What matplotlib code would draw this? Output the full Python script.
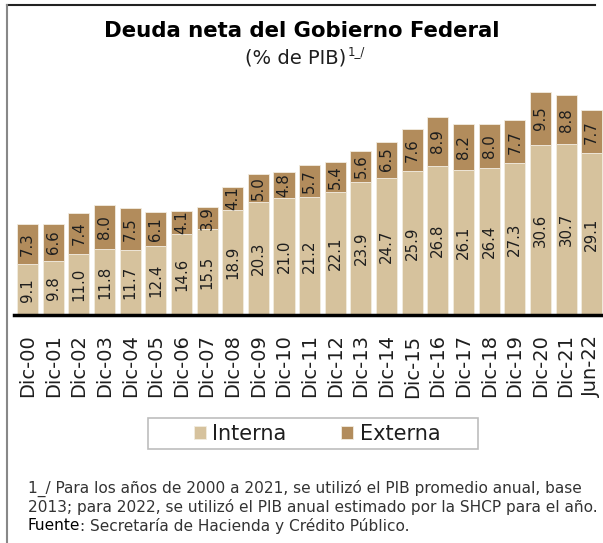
import numpy as np
import matplotlib
matplotlib.use("Agg")
import matplotlib.pyplot as plt
from matplotlib.lines import Line2D
from matplotlib.patches import Rectangle

periodos = ["Dic-00", "Dic-01", "Dic-02", "Dic-03", "Dic-04", "Dic-05", "Dic-06",
            "Dic-07", "Dic-08", "Dic-09", "Dic-10", "Dic-11", "Dic-12", "Dic-13",
            "Dic-14", "Dic-15", "Dic-16", "Dic-17", "Dic-18", "Dic-19", "Dic-20",
            "Dic-21", "Jun-22"]
interna = [9.1, 9.8, 11.0, 11.8, 11.7, 12.4, 14.6, 15.5, 18.9, 20.3, 21.0, 21.2,
           22.1, 23.9, 24.7, 25.9, 26.8, 26.1, 26.4, 27.3, 30.6, 30.7, 29.1]
externa = [7.3, 6.6, 7.4, 8.0, 7.5, 6.1, 4.1, 3.9, 4.1, 5.0, 4.8, 5.7,
           5.4, 5.6, 6.5, 7.6, 8.9, 8.2, 8.0, 7.7, 9.5, 8.8, 7.7]

COLOR_INT = "#d6c29d"
COLOR_EXT = "#b28c5c"
TXT = "#1e1e1e"

plt.rcParams["font.family"] = ["DejaVu Sans"]

fig = plt.figure(figsize=(6.03, 5.43), dpi=100)
W, H = 603, 543
# ejes: base en y=315 px, izquierda x=14 px
ax = fig.add_axes([14 / W, 1 - 315 / H, 1 - 14 / W, 255 / H])

x = np.arange(len(periodos))
ax.bar(x, interna, width=0.82, color=COLOR_INT, edgecolor="#f2ece0", linewidth=0.6, label="Interna")
ax.bar(x, externa, width=0.82, bottom=interna, color=COLOR_EXT, edgecolor="#f2ece0", linewidth=0.6, label="Externa")

for i in range(len(x)):
    ax.text(x[i], interna[i] / 2, f"{interna[i]:.1f}", rotation=90, ha="center", va="center",
            fontsize=10.8, color=TXT)
    ax.text(x[i], interna[i] + externa[i] / 2, f"{externa[i]:.1f}", rotation=90, ha="center",
            va="center", fontsize=10.8, color=TXT)

ax.set_xlim(-0.53, 22.44)
ax.set_ylim(0, 255 / 5.56)
ax.set_xticks(x)
ax.set_xticklabels(periodos, rotation=90, fontsize=14, color=TXT)
ax.tick_params(axis="x", length=0, pad=14)
ax.set_yticks([])
for s in ["top", "right", "left"]:
    ax.spines[s].set_visible(False)
ax.spines["bottom"].set_linewidth(2.5)
ax.spines["bottom"].set_color("black")

# leyenda con marco fijo
fig.add_artist(Rectangle((148 / W, 1 - 449 / H), 330 / W, 31 / H, transform=fig.transFigure,
                         facecolor="white", edgecolor="#bdbdbd", lw=1.2))
leg = fig.legend(loc="center", bbox_to_anchor=(317 / W, 1 - 434 / H), ncol=2, fontsize=15,
                 frameon=False, handlelength=0.6, handleheight=0.6, handletextpad=0.3,
                 columnspacing=2.6, borderpad=0.2)
for t in leg.get_texts():
    t.set_color(TXT)

fig.text(0.5, 1 - 31 / H, "Deuda neta del Gobierno Federal", ha="center", va="center",
         fontsize=15.3, fontweight="bold", color="black")
sub = fig.text(0.49, 1 - 58 / H, "(% de PIB)", ha="center", va="center", fontsize=14,
               color=TXT)
fig.canvas.draw()
sb = sub.get_window_extent()
fig.text(sb.x1 / W + 0.002, 1 - 52 / H, "1_/", ha="left", va="center", fontsize=8.5, color=TXT)

notas = ["1_/ Para los años de 2000 a 2021, se utilizó el PIB promedio anual, base",
         "2013; para 2022, se utilizó el PIB anual estimado por la SHCP para el año."]
FS = 11.1
fig.text(28 / W, 1 - 488 / H, notas[0], ha="left", va="center", fontsize=FS, color="#333333")
fig.text(28 / W, 1 - 507 / H, notas[1], ha="left", va="center", fontsize=FS, color="#333333")
t = fig.text(28 / W, 1 - 526 / H, "Fuente", ha="left", va="center", fontsize=FS, color="black")
fig.canvas.draw()
bb = t.get_window_extent()
fig.text(bb.x1 / W, 1 - 526 / H, ": Secretaría de Hacienda y Crédito Público.", ha="left",
         va="center", fontsize=FS, color="#333333")

# marco
fig.add_artist(Line2D([7 / W, 595 / W], [1 - 5 / H, 1 - 5 / H], color="#222222", lw=1.5,
                      transform=fig.transFigure))
fig.add_artist(Line2D([7 / W, 7 / W], [0, 1 - 5 / H], color="#888888", lw=1.5,
                      transform=fig.transFigure))

fig.savefig("out.png", dpi=100)
